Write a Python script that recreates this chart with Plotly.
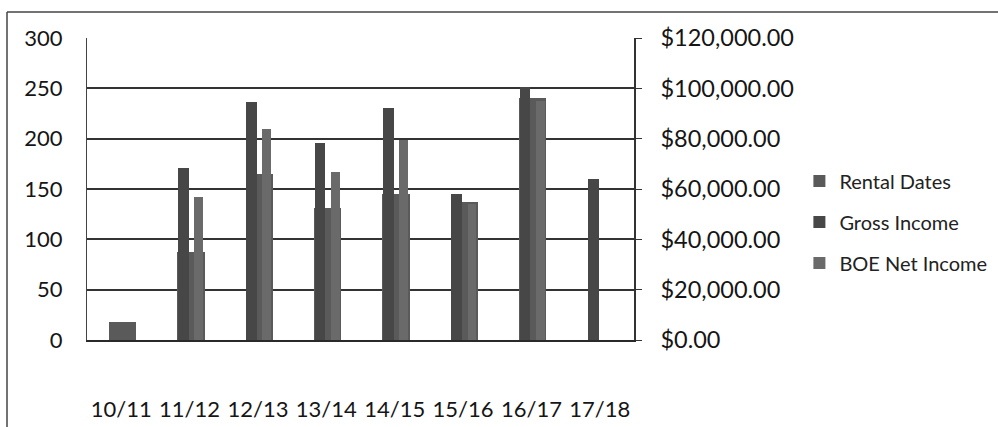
import plotly.graph_objects as go

# ---- data ----
seasons = ["10/11", "11/12", "12/13", "13/14", "14/15", "15/16", "16/17", "17/18"]
rental_dates = [18, 87, 165, 131, 145, 137, 240, None]
gross_income = [None, 68200, 94400, 78200, 92000, 57900, 100400, 64100]
boe_net_income = [None, 56900, 83700, 66800, 79500, 54000, 95000, None]

left_ticks = [0, 50, 100, 150, 200, 250, 300]
right_ticks = [0, 20000, 40000, 60000, 80000, 100000, 120000]

FONT = "Lato"
TXT = "#151515"

fig = go.Figure()
fig.add_trace(go.Bar(
    x=seasons, y=rental_dates, name="Rental Dates", yaxis="y",
    width=0.40, offset=-0.18, marker=dict(color="#5a5a5a", line=dict(width=0)),
    legendgroup="a"))
fig.add_trace(go.Bar(
    x=seasons, y=gross_income, name="Gross Income", yaxis="y2",
    width=0.155, offset=-0.17, marker=dict(color="#474747", line=dict(width=0)),
    legendgroup="b"))
fig.add_trace(go.Bar(
    x=seasons, y=boe_net_income, name="BOE Net Income", yaxis="y2",
    width=0.13, offset=0.066, marker=dict(color="#6a6a6a", line=dict(width=0)),
    legendgroup="c"))

W, H = 998, 427
L, R, T, B = 87, 634, 38, 340
fig.update_layout(
    width=W, height=H, autosize=False,
    margin=dict(l=L, r=W - R, t=T, b=H - B, pad=0, autoexpand=False),
    paper_bgcolor="white", plot_bgcolor="white",
    font=dict(family=FONT, size=22, color=TXT),
    bargap=0, barmode="overlay",
    xaxis=dict(
        type="category", showgrid=False, showline=True, linecolor="#2a2a2a",
        linewidth=2, ticks="", ticklabelstandoff=49, zeroline=False,
        automargin=False, tickfont=dict(family=FONT, size=22, color=TXT)),
    yaxis=dict(
        range=[0, 300], tickvals=left_ticks, showgrid=True, gridcolor="#333333",
        gridwidth=1.5, showline=True, linecolor="#444444", linewidth=1.2,
        zeroline=False, ticks="", ticklabelstandoff=19, automargin=False,
        tickfont=dict(family=FONT, size=22, color=TXT)),
    yaxis2=dict(
        range=[0, 120000], tickvals=right_ticks, tickformat="$,.2f",
        overlaying="y", side="right", showgrid=False, showline=True,
        linecolor="#333333", linewidth=1.5, ticks="outside", ticklen=6,
        tickcolor="#333333", zeroline=False, ticklabelstandoff=14,
        automargin=False, tickfont=dict(family=FONT, size=23.5, color=TXT)),
    legend=dict(
        xref="container", yref="container", x=0.801, y=1 - 222 / H,
        xanchor="left", yanchor="middle", traceorder="grouped",
        tracegroupgap=12, font=dict(family=FONT, size=20, color="#222222"),
        bgcolor="rgba(0,0,0,0)"),
    showlegend=True,
)

# outer chart-area border (top and left edges visible in the scan)
pw, ph = R - L, B - T
def px(xp):
    return (xp - L) / pw
def py(yp):
    return (B - yp) / ph
fig.add_shape(type="line", xref="paper", yref="paper",
              x0=px(7), x1=px(1005), y0=py(12), y1=py(12),
              line=dict(color="#444444", width=1.5))
fig.add_shape(type="line", xref="paper", yref="paper",
              x0=px(7), x1=px(7), y0=py(12), y1=py(440),
              line=dict(color="#444444", width=1.5))

fig.write_html(
    "out.html",
    config={"displayModeBar": False},
    post_script="document.body.style.margin='0px';document.body.style.overflow='hidden';",
)
